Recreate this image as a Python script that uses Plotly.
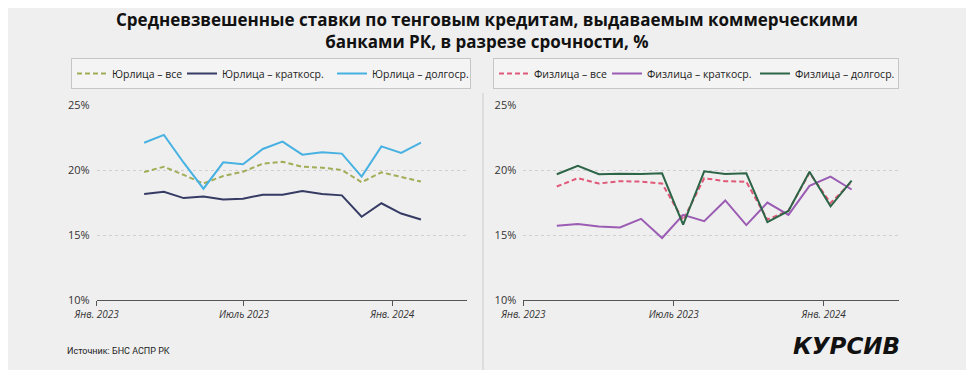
import plotly.graph_objects as go

# ---- data ----
periods = ["2023-01", "2023-02", "2023-03", "2023-04", "2023-05", "2023-06", "2023-07",
           "2023-08", "2023-09", "2023-10", "2023-11", "2023-12", "2024-01", "2024-02", "2024-03"]

jur_all = [19.85, 20.25, 19.62, 18.96, 19.54, 19.87, 20.48, 20.63, 20.25, 20.18, 20.0, 19.06, 19.82, 19.49, 19.11]
jur_short = [18.15, 18.32, 17.84, 17.97, 17.74, 17.79, 18.10, 18.10, 18.38, 18.15, 18.05, 16.40, 17.44, 16.65, 16.19]
jur_long = [22.10, 22.70, 20.56, 18.56, 20.59, 20.44, 21.62, 22.18, 21.18, 21.36, 21.26, 19.49, 21.82, 21.31, 22.10]

fiz_all = [18.73, 19.37, 18.96, 19.14, 19.11, 18.96, 16.15, 19.37, 19.14, 19.09, 16.19, 16.88, 19.78, 17.46, 19.09]
fiz_short = [15.71, 15.84, 15.66, 15.58, 16.24, 14.77, 16.55, 16.07, 17.66, 15.76, 17.49, 16.55, 18.78, 19.49, 18.50]
fiz_long = [19.67, 20.33, 19.67, 19.72, 19.70, 19.75, 15.79, 19.90, 19.70, 19.75, 15.99, 16.85, 19.87, 17.21, 19.19]

x_tick_labels = ["Янв. 2023", "Июль 2023", "Янв. 2024"]
y_ticks = [10, 15, 20, 25]
y_tick_labels = [f"{v}%" for v in y_ticks]

title_text = ("Средневзвешенные ставки по тенговым кредитам, выдаваемым коммерческими<br>"
              "банками РК, в разрезе срочности, %")
source_text = "Источник: БНС АСПР РК"
logo_text = "КУРСИВ"

# ---- figure ----
W, H = 974, 370
OFF = 8  # page body margin offset
BG = "#efefef"
FONT = "Open Sans"
idx = list(range(len(periods)))


def px(x):
    return (x - OFF) / W


def py(y):
    return 1 - (y - OFF) / H


fig = go.Figure()

left_series = [
    ("Юрлица – все", jur_all, "#a3ad57", "5px,3px", 65),
    ("Юрлица – краткоср.", jur_short, "#363b64", "solid", 105),
    ("Юрлица – долгоср.", jur_long, "#47b1e2", "solid", 93),
]
right_series = [
    ("Физлица – все", fiz_all, "#e0587a", "5px,3px", 68),
    ("Физлица – краткоср.", fiz_short, "#9b5cb4", "solid", 103),
    ("Физлица – долгоср.", fiz_long, "#2c6547", "solid", 98),
]

for name, vals, col, dash, lw in left_series:
    fig.add_trace(go.Scatter(x=idx, y=vals, name=name, mode="lines", customdata=periods,
                             line=dict(color=col, width=2, dash=dash),
                             xaxis="x", yaxis="y", legend="legend", legendwidth=lw))
for name, vals, col, dash, lw in right_series:
    fig.add_trace(go.Scatter(x=idx, y=vals, name=name, mode="lines", customdata=periods,
                             line=dict(color=col, width=2, dash=dash),
                             xaxis="x2", yaxis="y2", legend="legend2", legendwidth=lw))

ydom = [py(300), py(105)]


def xax(domain, rng, tickpos):
    return dict(domain=domain, range=rng, tickvals=tickpos, ticktext=x_tick_labels,
                automargin=False,
                showgrid=False, zeroline=False, showline=True, linecolor="#555555", linewidth=1.2,
                ticks="outside", ticklen=5, tickcolor="#555555", tickwidth=1,
                tickfont=dict(family=FONT, size=10, color="#333333", style="italic"))


def yax(anchor):
    return dict(domain=ydom, range=[10, 25], tickvals=y_ticks, ticktext=y_tick_labels,
                automargin=False,
                showgrid=True, gridcolor="#cfcfcf", griddash="3px,3px", gridwidth=1,
                zeroline=False, showline=False, anchor=anchor, ticks="", ticklabelstandoff=6,
                tickfont=dict(family=FONT, size=11, color="#333333"))


legend_common = dict(orientation="h", yanchor="top", y=py(58), xanchor="left",
                     bgcolor="#f4f4f4", bordercolor="#c6c6c6", borderwidth=1,
                     font=dict(family=FONT, size=10.5, color="#222222"),
                     itemclick=False, tracegroupgap=0)

fig.update_layout(
    width=W, height=H,
    paper_bgcolor=BG, plot_bgcolor=BG,
    margin=dict(l=0, r=0, t=0, b=0, autoexpand=False),
    showlegend=True,
    xaxis=xax([px(96.7), px(467)], [-2.40, 16.33], [-2.40, 5.05, 12.55]),
    yaxis=yax("x"),
    xaxis2=xax([px(523.3), px(899)], [-1.59, 16.25], [-1.59, 5.55, 12.67]),
    yaxis2=yax("x2"),
    legend=dict(legend_common, x=px(71)),
    legend2=dict(legend_common, x=px(493)),
    shapes=[dict(type="line", xref="paper", yref="paper", x0=px(483), x1=px(483),
                 y0=0, y1=py(93), line=dict(color="#cccccc", width=1))],
    annotations=[
        dict(text="<b>" + title_text + "</b>", xref="paper", yref="paper", x=px(487), y=py(30),
             xanchor="center", yanchor="middle", showarrow=False,
             font=dict(family=FONT, size=17, color="#111111")),
        dict(text=source_text, xref="paper", yref="paper", x=px(65), y=py(351),
             xanchor="left", yanchor="middle", showarrow=False,
             font=dict(family="Liberation Sans Narrow, Roboto", size=9, color="#222222")),
        dict(text="<b><i>" + logo_text + "</i></b>", xref="paper", yref="paper",
             x=px(902), y=py(346), xanchor="right", yanchor="middle", showarrow=False,
             font=dict(family="DejaVu Sans", size=23, color="#111111")),
    ],
)

fig.write_html("out.html")
